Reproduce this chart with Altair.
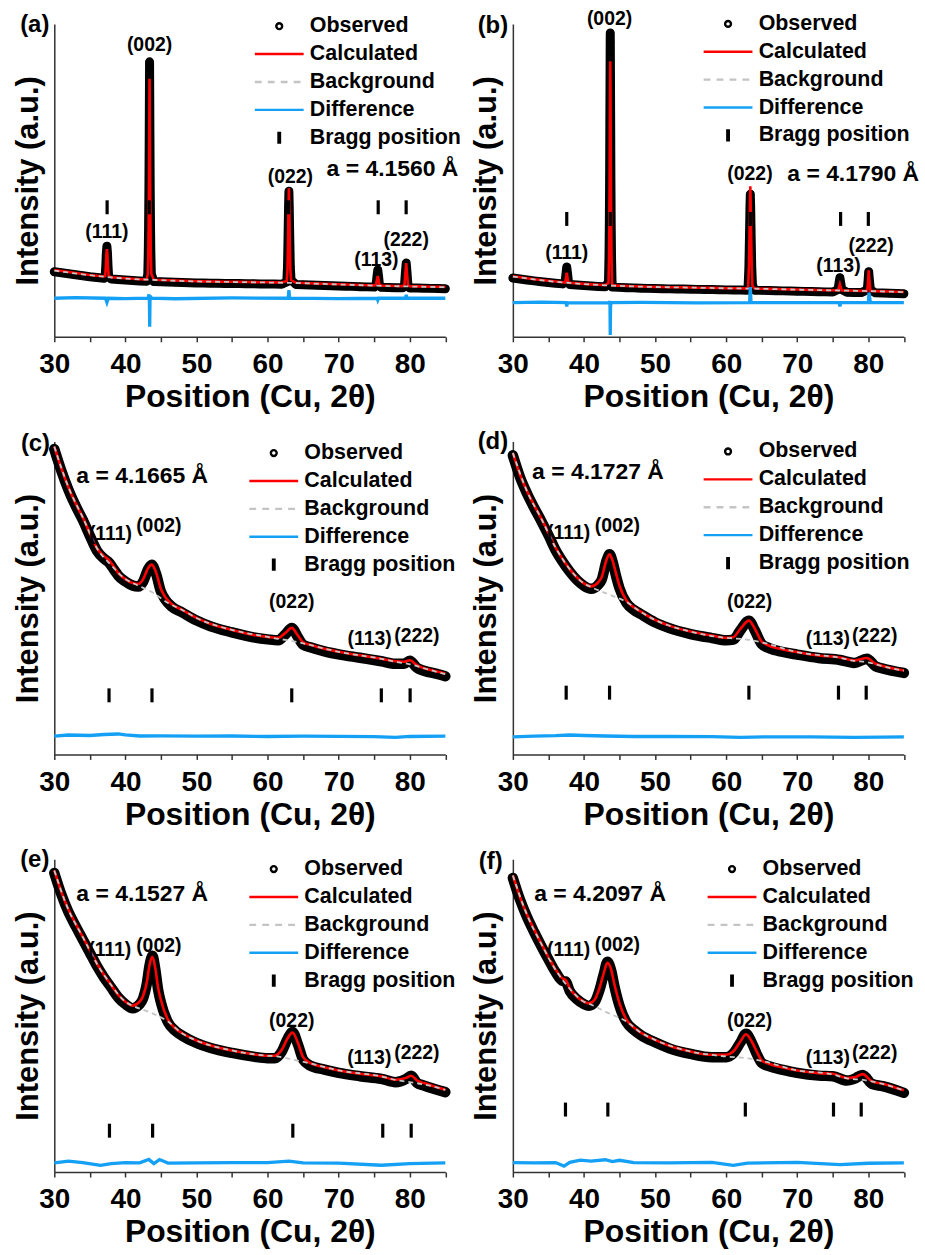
import altair as alt
import pandas as pd

FONT = "Liberation Sans"
X_DOMAIN = [30, 85]
Y_DOMAIN = [0, 314]
PLOT_W, PLOT_H = 392.5, 314

SERIES = ["Observed", "Calculated", "Background", "Difference", "Bragg position"]
SERIES_COLORS = ["#000000", "#ff0000", "#c4c4c4", "#14a0f5", "#000000"]
SERIES_SHAPES = [
    "M-0.12,0A0.12,0.12,0,1,0,0.12,0A0.12,0.12,0,1,0,-0.12,0Z",
    "M-1,0L1,0",
    "M-1,0L-0.72,0M-0.47,0L-0.19,0M0.06,0L0.34,0M0.59,0L0.87,0",
    "M-1,0L1,0",
    "M-0.03,-0.25L-0.03,0.25M0.03,-0.25L0.03,0.25",
]
PEAK_NAMES = ["(111)", "(002)", "(022)", "(113)", "(222)"]

# ---------------- panel (a) ----------------
A_X = [30, 31, 32, 33, 34, 35, 36, 37, 37.15, 37.25, 37.32, 37.4, 37.48, 37.55, 37.65, 38, 39, 40, 41, 42, 43,
       43.15, 43.22, 43.27, 43.31, 43.35, 43.38, 43.4, 43.42, 43.45, 43.49, 43.53, 43.58, 43.65, 44, 45, 46, 47,
       48, 49, 50, 51, 52, 53, 54, 55, 56, 57, 58, 59, 60, 61, 62, 62.7, 62.8, 62.88, 62.95, 63.0, 63.05, 63.12,
       63.2, 63.3, 64, 65, 66, 67, 68, 69, 70, 71, 72, 73, 74, 75, 75.25, 75.38, 75.5, 75.62, 75.75, 76, 77, 78,
       79, 79.25, 79.38, 79.5, 79.62, 79.75, 80, 81, 82, 83, 84, 85]
A_OBS = [65.3, 64.3, 63.3, 62.3, 61.3, 60.3, 59.5, 58.8, 60, 72, 84, 91, 84, 72, 60, 58.1, 57.5, 57, 56.5, 56.1,
         55.8, 63, 85, 115, 150, 200, 245, 276, 250, 205, 150, 115, 85, 63, 55.5, 55.3, 55, 54.8, 54.5, 54.3,
         54.1, 53.9, 53.8, 53.7, 53.6, 53.5, 53.4, 53.3, 53.2, 53.1, 53, 52.9, 52.8, 55, 70, 100, 130, 146, 130,
         100, 70, 57, 52.5, 52.3, 52, 51.7, 51.5, 51.3, 51, 50.8, 50.6, 50.3, 50.1, 49.9, 51, 60, 67, 60, 51,
         49.7, 49.5, 49.3, 49.2, 51, 64, 74, 64, 51, 49, 48.9, 48.8, 48.6, 48.5, 48.3]
A_CALC = [67, 66, 65, 64, 63, 62, 61.2, 60.5, 61, 70, 82, 88, 82, 70, 61, 59.8, 59.2, 58.7, 58.2, 57.8, 57.5,
          63, 82, 112, 150, 200, 240, 259, 240, 200, 150, 112, 82, 63, 57.2, 57, 56.7, 56.5, 56.2, 56, 55.8,
          55.6, 55.5, 55.4, 55.3, 55.2, 55.1, 55, 54.9, 54.8, 54.7, 54.6, 54.5, 56, 68, 98, 132, 149, 132, 98,
          68, 57, 54.2, 54, 53.7, 53.4, 53.2, 53, 52.7, 52.5, 52.3, 52, 51.8, 51.6, 52, 57, 61, 57, 52, 51.4,
          51.2, 51, 50.9, 52, 63, 74, 63, 52, 50.7, 50.6, 50.5, 50.3, 50.2, 50]
A_BG_X = [30, 35, 40, 45, 50, 55, 60, 65, 70, 75, 80, 85]
A_BG = [66.5, 61.8, 58.5, 56.8, 55.6, 55, 54.5, 53.8, 52.5, 51.4, 50.5, 49.8]
A_DIFF_X = [30, 33, 37.2, 37.4, 37.6, 40, 43.2, 43.32, 43.38, 43.42, 43.46, 43.52, 43.65, 47, 55, 62.9, 63.0,
            63.1, 70, 75.4, 75.5, 75.6, 79.4, 79.5, 79.62, 85]
A_DIFF = [38.7, 39.3, 38.7, 34.5, 38.7, 38.4, 38.7, 42.7, 36, 10, 36, 41, 38.7, 38.2, 39, 38.7, 46.7, 38.7,
          38.3, 38.7, 36.8, 38.7, 38.7, 42, 38.7, 38.7]
A_BRAGG = [37.43, 43.36, 62.94, 75.56, 79.49]
A_BRAGG_Y = 130
A_LABEL_X = [37.4, 43.4, 63.2, 75.3, 79.5]
A_LABEL_Y = [105, 293, 160, 77, 97]
A_LATTICE = ["a = 4.1560 Å", 68.3, 168]

# ---------------- panel (b) ----------------
B_X = [30, 31, 32, 33, 34, 35, 36, 37, 37.35, 37.47, 37.58, 37.7, 37.82, 38, 39, 40, 41, 42, 43, 43.45, 43.52,
       43.57, 43.61, 43.64, 43.67, 43.69, 43.7, 43.71, 43.73, 43.76, 43.79, 43.83, 43.88, 43.95, 44, 45, 46, 47,
       48, 49, 50, 51, 52, 53, 54, 55, 56, 57, 58, 59, 60, 61, 62, 63, 63.1, 63.2, 63.28, 63.35, 63.4, 63.45,
       63.52, 63.6, 63.7, 64, 65, 66, 67, 68, 69, 70, 71, 72, 73, 74, 75, 75.75, 75.88, 76.0, 76.12, 76.25, 77,
       78, 79, 79.85, 79.97, 80.05, 80.15, 80.3, 81, 82, 83, 84, 85]
B_OBS = [59, 58, 57, 56.1, 55.3, 54.5, 53.8, 53.1, 55, 63, 70, 63, 55, 52.5, 51.9, 51.4, 50.9, 50.5, 50.2,
         55, 80, 115, 160, 215, 262, 296, 305, 296, 262, 215, 160, 115, 80, 55, 49.9, 49.6, 49.3, 49.1, 48.8,
         48.6, 48.4, 48.3, 48.1, 48, 47.9, 47.8, 47.6, 47.5, 47.4, 47.3, 47.1, 47, 46.9, 46.8, 52, 70, 100, 130,
         143, 130, 100, 70, 52, 46.7, 46.6, 46.4, 46.2, 46.1, 45.9, 45.7, 45.6, 45.4, 45.3, 45.1, 45, 47.5, 54,
         59.3, 54, 47.5, 44.7, 44.5, 44.4, 47, 57, 65.3, 57, 47, 44.1, 43.9, 43.7, 43.5, 43.3]
B_CALC = [60.7, 59.7, 58.7, 57.8, 57, 56.2, 55.5, 54.8, 54.5, 59, 64.3, 59, 54.3, 54.2, 53.6, 53.1, 52.6, 52.2,
          51.9, 54, 78, 112, 160, 210, 250, 268, 276.7, 268, 250, 210, 160, 112, 78, 54, 51.6, 51.3, 51, 50.8,
          50.5, 50.3, 50.1, 50, 49.8, 49.7, 49.6, 49.5, 49.3, 49.2, 49.1, 49, 48.8, 48.7, 48.6, 48.5, 51, 70, 100,
          135, 151, 135, 100, 70, 51, 48.4, 48.3, 48.1, 47.9, 47.8, 47.6, 47.4, 47.3, 47.1, 47, 46.8, 46.7, 46.5,
          50, 53, 50, 46.4, 46.4, 46.2, 46.1, 46, 57, 66.7, 57, 46, 45.8, 45.6, 45.4, 45.2, 45]
B_BG_X = [30, 35, 40, 45, 50, 55, 60, 65, 70, 75, 80, 85]
B_BG = [60.5, 56, 52.9, 51.1, 50, 49.4, 48.7, 48.2, 47.3, 46.6, 45.9, 44.9]
B_DIFF_X = [30, 34, 37.5, 37.58, 37.66, 41, 43.6, 43.66, 43.7, 43.74, 43.8, 48, 56, 63.3, 63.4, 63.5, 70, 75.9,
            76.0, 76.1, 80.0, 80.1, 80.25, 80.4, 85]
B_DIFF = [34.3, 34.8, 34.3, 30.5, 34.3, 34, 34.3, 36, 1.7, 30, 34.3, 34.6, 34.1, 34.3, 50, 34.3, 34.4, 34.3,
          30.5, 34.3, 34.3, 44.3, 36, 34.3, 34.3]
B_BRAGG = [37.58, 43.7, 63.4, 76.1, 80.0]
B_BRAGG_Y = 118.3
B_LABEL_X = [37.58, 43.6, 63.35, 75.8, 80.4]
B_LABEL_Y = [84.3, 319, 163, 71, 91]
B_LATTICE = ["a = 4.1790 Å", 68.6, 163]

# ---------------- panel (c) ----------------
C_X = [30, 31, 32, 33, 34, 35, 36, 37, 37.7, 38.5, 39, 40, 41, 41.8, 42.5, 43.2, 43.7, 44.3, 45, 45.6, 46.5,
       48, 50, 52, 55, 58, 60, 61.5, 62.5, 63.4, 64.2, 65, 66, 68, 70, 73, 76, 78, 79.2, 80, 81, 82, 84, 85]
C_CALC = [309, 287, 268, 252, 238, 222, 207, 199, 195, 187, 182, 176, 172, 171, 176, 187, 190.5, 183, 166, 158,
          151, 145, 137, 131, 125, 120, 118, 117, 122, 127, 120, 112.5, 110, 106, 103, 99.5, 96, 93.5, 93, 94.5,
          89.5, 86.5, 83, 81]
C_OBS = [306.5, 284.5, 265.5, 249.5, 235.5, 219.5, 204.5, 196.5, 192.5, 184.5, 179.5, 173.5, 169.5, 168.5, 173.5,
         186, 190.5, 181.5, 163.5, 155.5, 148.5, 142.5, 134.5, 128.5, 122.5, 117.5, 115.5, 114.5, 120.5, 127,
         118.5, 110, 107.5, 103.5, 100.5, 97, 93.5, 91, 91, 94, 87, 84, 80.5, 78.5]
C_BG_X = [30, 32, 34, 36, 38, 40, 41.5, 43.7, 46, 48, 50, 55, 60, 61.5, 63.4, 65, 70, 76, 78, 80, 82, 85]
C_BG = [309, 268, 238, 207, 190, 176, 170.5, 163, 152, 145, 137, 125, 118, 116, 114, 111.5, 103, 96, 93, 90.5,
        86.5, 80.5]
C_DIFF_X = [30, 32, 35, 37, 39, 40, 42, 45, 50, 55, 60, 65, 70, 75, 78, 80, 85]
C_DIFF = [18.3, 19.5, 19, 20, 20.5, 19.5, 18.5, 18.7, 18.3, 18.5, 18, 18.4, 18.2, 17.8, 17, 18, 18.3]
C_BRAGG = [37.7, 43.74, 63.4, 76.0, 80.05]
C_BRAGG_Y = 59.3
C_LABEL_X = [37.9, 44.7, 63.4, 74.35, 81.0]
C_LABEL_Y = [221, 229.3, 152.7, 116, 119.3]
C_LATTICE = ["a = 4.1665 Å", 33.1, 279.3]

# ---------------- panel (d) ----------------
D_X = [30, 31, 32, 33, 34, 35, 36, 37, 38, 39, 40, 41, 42, 42.5, 43.2, 43.6, 44, 44.5, 45, 46, 47, 48, 50, 52,
       55, 58, 60, 61, 62, 63.2, 64, 65, 66, 68, 70, 73, 76, 78, 79.8, 81, 82, 85]
D_CALC = [302.7, 281, 264.3, 250, 236.7, 222.7, 207.7, 196, 186, 177.7, 171.7, 168.7, 172.7, 178, 196, 201, 195,
          182, 169.3, 154.3, 147.7, 143.3, 135, 129.3, 123.3, 119.3, 117, 117.7, 126, 134.3, 126.7, 113.3, 109.3,
          105.3, 102.7, 99.3, 97.3, 94.3, 96.7, 91, 88.7, 84.3]
D_OBS = [300.2, 278.5, 261.8, 247.5, 234.2, 220.2, 205.2, 193.5, 183.5, 175.2, 169.2, 166.2, 170.2, 175.5, 195,
         201, 194, 179.5, 166.8, 151.8, 145.2, 140.8, 132.5, 126.8, 120.8, 116.8, 114.5, 115.2, 124.5, 134.3,
         125, 110.8, 106.8, 102.8, 100.2, 96.8, 94.8, 91.8, 96, 88.5, 86.2, 81.8]
D_BG_X = [30, 32, 34, 36, 38, 40, 41, 43.6, 46, 48, 50, 55, 60, 61, 63.2, 65, 70, 76, 78, 79.8, 82, 85]
D_BG = [302.7, 264, 236.7, 207.7, 186, 171.7, 168, 160.3, 153, 143, 135, 123.3, 117, 116.5, 115, 112.5, 102.7,
        97, 94, 92.7, 88.5, 84]
D_DIFF_X = [30, 33, 36, 38, 40, 43, 47, 52, 58, 62, 66, 72, 78, 82, 85]
D_DIFF = [17.7, 18.3, 18.8, 19.5, 19, 18.5, 18, 18, 17.8, 17.2, 17.6, 17.5, 17, 17.3, 17.5]
D_BRAGG = [37.5, 43.6, 63.2, 75.8, 79.7]
D_BRAGG_Y = 62
D_LABEL_X = [37.85, 44.7, 63.3, 74.3, 80.9]
D_LABEL_Y = [222.7, 229.3, 152.7, 116, 119.3]
D_LATTICE = ["a = 4.1727 Å", 32.7, 283.3]

# ---------------- panel (e) ----------------
E_X = [30, 31, 32, 33, 34, 35, 36, 37, 38, 39, 40, 41, 42, 42.5, 43, 43.4, 43.8, 44.2, 44.6, 45, 46, 47, 48,
       50, 52, 55, 58, 60, 61, 62, 62.8, 63.5, 64.3, 65, 66, 68, 70, 73, 76, 78, 79.5, 80.2, 81, 82, 85]
E_CALC = [302.7, 281, 263.3, 249.3, 236, 222.7, 209.3, 197.7, 187.7, 177.7, 171, 167, 171, 177, 190, 208, 216,
          205, 185, 172.7, 152.7, 144.3, 139.3, 132, 127, 122, 118.3, 116.7, 116.7, 122.7, 134, 140, 129, 115.3,
          109.3, 105.3, 102, 98.7, 96, 92.7, 94.5, 96.7, 92, 89.3, 82.7]
E_OBS = [300.2, 278.5, 260.8, 246.8, 233.5, 220.2, 206.8, 195.2, 185.2, 175.2, 168.5, 164.5, 168.5, 174.5, 188.5,
         207.5, 217, 204, 183, 170.2, 150.2, 141.8, 136.8, 129.5, 124.5, 119.5, 115.8, 114.2, 114.2, 121, 133.5,
         140.5, 127.5, 112.8, 106.8, 102.8, 99.5, 96.2, 93.5, 90.2, 93.5, 96.7, 89.5, 86.8, 80.2]
E_BG_X = [30, 32, 34, 36, 38, 40, 41, 43.8, 46, 48, 50, 55, 60, 61, 63.5, 66, 70, 76, 78, 80.2, 82, 85]
E_BG = [302.7, 263, 236, 209, 187.7, 171, 167, 159.3, 151, 139, 132, 122, 116.7, 116.3, 113, 109, 102, 96, 92.5,
        90, 88, 82.5]
E_DIFF_X = [30, 32, 34, 36.5, 38, 40, 42, 43.3, 44, 44.8, 46, 50, 55, 60, 63, 65, 70, 76, 80, 85]
E_DIFF = [9.3, 11, 9.5, 6.7, 8.5, 9.5, 9.3, 12.7, 8.5, 12.5, 9, 9.3, 9.5, 9.4, 11, 9.3, 9, 6.8, 8.5, 9.3]
E_BRAGG = [37.76, 43.83, 63.55, 76.2, 80.2]
E_BRAGG_Y = 41.5
E_LABEL_X = [37.8, 44.7, 63.4, 74.3, 81.0]
E_LABEL_Y = [222.7, 227, 151.7, 114.3, 119.3]
E_LATTICE = ["a = 4.1527 Å", 33.1, 278.7]

# ---------------- panel (f) ----------------
F_X = [30, 31, 32, 33, 34, 35, 36, 37, 37.4, 38, 39, 40, 40.7, 41.5, 42.2, 42.8, 43.3, 43.8, 44.3, 45, 46, 47,
       48, 50, 52, 55, 58, 60, 61, 62, 62.8, 63.6, 64.3, 65, 66, 68, 70, 73, 75, 77, 78, 79.2, 80.5, 82, 85]
F_CALC = [297.7, 276, 258.3, 243.3, 229.3, 216, 203.3, 194.3, 193, 184.3, 176, 171, 169.3, 173, 185, 200, 210,
          204, 188, 169.3, 152.7, 145.3, 140, 132.7, 126.7, 121, 117.7, 117.7, 121, 131, 138.3, 131, 121, 112,
          108.7, 105, 102, 99.3, 98.7, 94.3, 95, 98.3, 91, 88.7, 82]
F_OBS = [295.2, 273.5, 255.8, 240.8, 226.8, 213.5, 200.8, 191.8, 191.5, 181.8, 173.5, 168.5, 166.8, 170.5, 183,
         199, 211, 203, 186, 166.8, 150.2, 142.8, 137.5, 130.2, 124.2, 118.5, 115.2, 115.2, 119, 130, 138.8, 130,
         118.5, 109.5, 106.2, 102.5, 99.5, 96.8, 96.2, 91.8, 93.5, 97.5, 88.5, 86.2, 79.5]
F_BG_X = [30, 32, 34, 36, 38, 40, 40.7, 43.3, 46, 48, 50, 55, 58, 60, 62.8, 65, 70, 75, 77, 79.2, 82, 85]
F_BG = [297.7, 258, 229, 203, 184, 171, 169, 160, 151, 140, 132.7, 121, 117.5, 116, 114.3, 111.5, 102, 98, 94,
        92.5, 88.5, 82]
F_DIFF_X = [30, 33, 36, 37.2, 38, 39.5, 41, 43, 44, 45, 47, 52, 58, 61, 63, 70, 76, 80, 85]
F_DIFF = [9.5, 9.3, 9.5, 6, 9.8, 12, 11, 12.3, 10.5, 11.8, 9.5, 9.3, 9.8, 6.8, 9, 9.6, 7.5, 8.8, 9.3]
F_BRAGG = [37.4, 43.36, 62.7, 75.1, 79.0]
F_BRAGG_Y = 62.7
F_LABEL_X = [37.85, 44.7, 63.3, 74.3, 80.9]
F_LABEL_Y = [222.7, 227.7, 152, 114.3, 119.3]
F_LATTICE = ["a = 4.2097 Å", 33.0, 279.3]

LETTERS = ["(a)", "(b)", "(c)", "(d)", "(e)", "(f)"]
LETTER_X = [25.2, 25.05, 25.3, 25.05, 25.2, 25.2]
LETTER_Y = [306, 305, 305, 307, 306, 304]
LEGEND_X = [199.8, 190.0, 194.3, 190.0, 194.3, 194.0]
LEGEND_Y = [-11.5, -13.8, -2.2, -3.8, -3.8, -3.8]
BAND_WIDTH = [9, 9, 10.5, 10.5, 10.5, 10.5]

X_AXIS = alt.Axis(
    title="Position (Cu, 2θ)", values=list(range(30, 86, 5)),
    labelExpr="datum.value % 10 == 0 ? datum.label : ''",
    tickSize=5, tickWidth=1.5, tickColor="#333333", domainColor="#333333", domainWidth=1.5,
    labelFont=FONT, labelFontSize=28, labelFontWeight="bold", labelColor="black", labelPadding=9,
    labelFlush=False, labelOverlap=False, grid=False,
    titleFont=FONT, titleFontSize=32, titleFontWeight="bold", titleColor="black", titlePadding=3,
)
Y_AXIS = alt.Axis(
    title="Intensity (a.u.)", labels=False, ticks=False, grid=False,
    domainColor="#333333", domainWidth=1.5,
    titleFont=FONT, titleFontSize=31, titleFontWeight="bold", titleColor="black", titlePadding=10,
)


def make_panel(i, x, obs, calc, bgx, bg, dx, diff, bragg, bragg_y, lab_x, lab_y, lattice, interp):
    xs = alt.X("x:Q", scale=alt.Scale(domain=X_DOMAIN, nice=False, zero=False), axis=X_AXIS)
    ysc = alt.Scale(domain=Y_DOMAIN, nice=False, zero=False)

    def Y(field):
        return alt.Y(field, type="quantitative", scale=ysc, axis=Y_AXIS)

    main = pd.DataFrame({"x": x, "obs": obs, "calc": calc, "series": ["Observed"] * len(x)})
    bgdf = pd.DataFrame({"x": bgx, "bg": bg})
    diffdf = pd.DataFrame({"x": dx, "diff": diff})
    braggdf = pd.DataFrame({"x": bragg, "center": [bragg_y] * len(bragg)})
    labdf = pd.DataFrame({"x": lab_x, "y": lab_y, "text": PEAK_NAMES})
    latdf = pd.DataFrame({"x": [lattice[1]], "y": [lattice[2]], "text": [lattice[0]]})
    letdf = pd.DataFrame({"x": [LETTER_X[i]], "y": [LETTER_Y[i]], "text": [LETTERS[i]]})

    leg = alt.Legend(
        title=None, orient="none", legendX=LEGEND_X[i], legendY=LEGEND_Y[i],
        labelFont=FONT, labelFontSize=21.5, labelFontWeight="bold", labelColor="black",
        labelOffset=4.7, labelLimit=400, symbolSize=2401, clipHeight=27.4, rowPadding=0, padding=0,
        symbolStrokeWidth=2.4,
    )

    obs_line = alt.Chart(main).mark_line(
        color="black", strokeWidth=BAND_WIDTH[i], strokeCap="round", strokeJoin="round", interpolate=interp
    ).encode(x=xs, y=Y("obs"))
    obs_pts = alt.Chart(main).mark_point(filled=False, size=2401, opacity=1).encode(
        x=xs, y=Y("obs"),
        color=alt.Color("series:N", scale=alt.Scale(domain=SERIES, range=SERIES_COLORS), legend=leg),
        shape=alt.Shape("series:N", scale=alt.Scale(domain=SERIES, range=SERIES_SHAPES), legend=leg),
    )
    calc_line = alt.Chart(main).mark_line(color=SERIES_COLORS[1], strokeWidth=2.6, interpolate=interp).encode(
        x=xs, y=Y("calc"))
    bg_line = alt.Chart(bgdf).mark_line(color=SERIES_COLORS[2], strokeWidth=1.8, strokeDash=[5, 4],
                                        interpolate="monotone").encode(x=xs, y=Y("bg"))
    diff_line = alt.Chart(diffdf).mark_line(color=SERIES_COLORS[3], strokeWidth=3.3, interpolate="linear").encode(
        x=xs, y=Y("diff"))
    bragg_rules = alt.Chart(braggdf).transform_calculate(
        lo="datum.center - 7", hi="datum.center + 7"
    ).mark_rule(color="black", strokeWidth=3.2).encode(x=xs, y=Y("lo"), y2="hi:Q")
    peak_text = alt.Chart(labdf).mark_text(
        font=FONT, fontSize=19.5, fontWeight="bold", color="black", align="center", baseline="middle"
    ).encode(x=xs, y=Y("y"), text="text:N")
    lat_text = alt.Chart(latdf).mark_text(
        font=FONT, fontSize=23, fontWeight="bold", color="black", align="left", baseline="middle"
    ).encode(x=xs, y=Y("y"), text="text:N")
    let_text = alt.Chart(letdf).mark_text(
        font=FONT, fontSize=24, fontWeight="bold", color="black", align="left", baseline="alphabetic"
    ).encode(x=xs, y=Y("y"), text="text:N")

    return alt.layer(obs_line, obs_pts, calc_line, bg_line, diff_line, bragg_rules,
                     peak_text, lat_text, let_text).properties(width=PLOT_W, height=PLOT_H)


panels = [
    make_panel(0, A_X, A_OBS, A_CALC, A_BG_X, A_BG, A_DIFF_X, A_DIFF, A_BRAGG, A_BRAGG_Y, A_LABEL_X, A_LABEL_Y,
               A_LATTICE, "linear"),
    make_panel(1, B_X, B_OBS, B_CALC, B_BG_X, B_BG, B_DIFF_X, B_DIFF, B_BRAGG, B_BRAGG_Y, B_LABEL_X, B_LABEL_Y,
               B_LATTICE, "linear"),
    make_panel(2, C_X, C_OBS, C_CALC, C_BG_X, C_BG, C_DIFF_X, C_DIFF, C_BRAGG, C_BRAGG_Y, C_LABEL_X, C_LABEL_Y,
               C_LATTICE, "monotone"),
    make_panel(3, D_X, D_OBS, D_CALC, D_BG_X, D_BG, D_DIFF_X, D_DIFF, D_BRAGG, D_BRAGG_Y, D_LABEL_X, D_LABEL_Y,
               D_LATTICE, "monotone"),
    make_panel(4, E_X, E_OBS, E_CALC, E_BG_X, E_BG, E_DIFF_X, E_DIFF, E_BRAGG, E_BRAGG_Y, E_LABEL_X, E_LABEL_Y,
               E_LATTICE, "monotone"),
    make_panel(5, F_X, F_OBS, F_CALC, F_BG_X, F_BG, F_DIFF_X, F_DIFF, F_BRAGG, F_BRAGG_Y, F_LABEL_X, F_LABEL_Y,
               F_LATTICE, "monotone"),
]

chart = alt.concat(
    *panels, columns=2, spacing={"row": 105.2, "column": 67.3}, bounds="flush"
).resolve_scale(
    color="independent", shape="independent"
).resolve_legend(
    color="independent", shape="independent"
).properties(
    padding={"left": 12.5, "top": 5.7, "right": 5, "bottom": 5}, background="white"
).configure_view(stroke=None)

chart.save("out.html", embed_options={"renderer": "svg", "actions": False})
